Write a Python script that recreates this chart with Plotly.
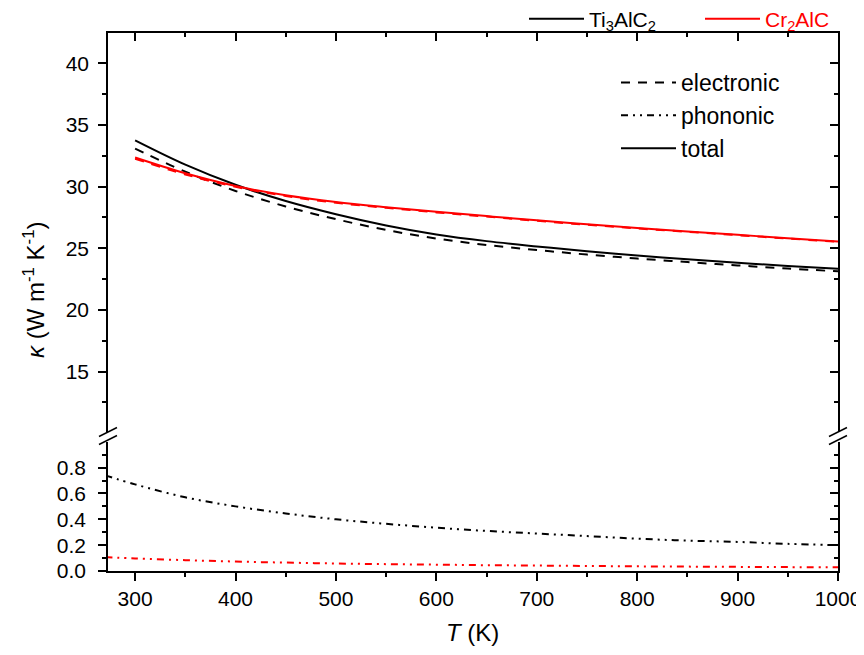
import plotly.graph_objects as go

# ---------------- data ----------------
T = [300, 350, 400, 450, 500, 550, 600, 650, 700, 750, 800, 850, 900, 950, 1000]
ti_total = [33.75, 31.78, 30.15, 28.83, 27.76, 26.85, 26.12, 25.58, 25.15, 24.76,
            24.42, 24.11, 23.83, 23.57, 23.33]
ti_elec = [33.08, 31.21, 29.65, 28.39, 27.36, 26.49, 25.79, 25.27, 24.86, 24.49,
           24.17, 23.88, 23.61, 23.36, 23.13]
cr_total = [32.36, 31.08, 30.05, 29.30, 28.75, 28.33, 27.96, 27.61, 27.27, 26.95,
            26.65, 26.37, 26.09, 25.82, 25.55]
cr_elec = [32.26, 30.99, 29.98, 29.24, 28.69, 28.28, 27.91, 27.57, 27.23, 26.91,
           26.61, 26.34, 26.06, 25.79, 25.52]

T_ph = [270, 300, 350, 400, 450, 500, 550, 600, 650, 700, 750, 800, 850, 900, 950, 1000]
ti_phon = [0.74, 0.67, 0.57, 0.50, 0.445, 0.40, 0.365, 0.335, 0.31, 0.29, 0.27,
           0.25, 0.235, 0.225, 0.21, 0.20]
cr_phon = [0.107, 0.097, 0.084, 0.073, 0.065, 0.058, 0.053, 0.049, 0.045, 0.042,
           0.039, 0.036, 0.034, 0.032, 0.030, 0.029]

x_ticks = [300, 400, 500, 600, 700, 800, 900, 1000]
y_up_ticks = [15, 20, 25, 30, 35, 40]
y_lo_ticks = [0.0, 0.2, 0.4, 0.6, 0.8]

# ---------------- style ----------------
FONT = "Liberation Sans, Arial, sans-serif"
OFF = 8                                  # page body margin
WIN_W, WIN_H = 864, 655
W, H = WIN_W - OFF, WIN_H - 2 * OFF
P_L, P_R, P_T, P_B = 108, 838, 33, 571   # plot box in window pixels
ML, MR, MT = P_L - OFF, WIN_W - P_R, P_T - OFF
MB = (OFF + H) - P_B
PW, PH = P_R - P_L, P_B - P_T
LOW_TOP = P_B - 442
UP_BOT = P_B - 432
DASH_E = "9px,8px"
DASH_P = "7px,5px,2px,5px,2px,5px"


def px2paper(px, py):
    return (px - P_L) / PW, (P_B - py) / PH


fig = go.Figure()

fig.add_trace(go.Scatter(x=T, y=ti_elec, mode="lines", xaxis="x2", yaxis="y2",
                         line=dict(color="black", width=2, dash=DASH_E, shape="spline"),
                         showlegend=False, hoverinfo="skip"))
fig.add_trace(go.Scatter(x=T, y=ti_total, mode="lines", xaxis="x2", yaxis="y2",
                         line=dict(color="black", width=2, shape="spline"),
                         name="Ti<sub>3</sub>AlC<sub>2</sub>", legend="legend"))
fig.add_trace(go.Scatter(x=T, y=cr_elec, mode="lines", xaxis="x2", yaxis="y2",
                         line=dict(color="red", width=2, dash=DASH_E, shape="spline"),
                         showlegend=False, hoverinfo="skip"))
fig.add_trace(go.Scatter(x=T, y=cr_total, mode="lines", xaxis="x2", yaxis="y2",
                         line=dict(color="red", width=2, shape="spline"),
                         name="<span style='color:red'>Cr<sub>2</sub>AlC</span>",
                         legend="legend"))

fig.add_trace(go.Scatter(x=T_ph, y=ti_phon, mode="lines", xaxis="x", yaxis="y",
                         line=dict(color="black", width=2, dash=DASH_P, shape="spline"),
                         showlegend=False))
fig.add_trace(go.Scatter(x=T_ph, y=cr_phon, mode="lines", xaxis="x", yaxis="y",
                         line=dict(color="red", width=2, dash=DASH_P, shape="spline"),
                         showlegend=False))

for nm, ds in [("electronic", DASH_E), ("phononic", DASH_P), ("total", "solid")]:
    fig.add_trace(go.Scatter(x=[None], y=[None], mode="lines", xaxis="x", yaxis="y",
                             line=dict(color="black", width=2, dash=ds),
                             name=nm, legend="legend2"))

for xa, ya in [("x3", "y2"), ("x2", "y3"), ("x", "y4")]:
    fig.add_trace(go.Scatter(x=[None], y=[None], xaxis=xa, yaxis=ya, mode="lines",
                             showlegend=False, hoverinfo="skip"))

ax_common = dict(showline=True, linecolor="black", linewidth=1.5, color="black",
                 showgrid=False, zeroline=False,
                 tickfont=dict(family=FONT, size=21, color="black"))
mirror_common = dict(showline=True, linecolor="black", linewidth=1.5,
                     showticklabels=False, ticks="inside", ticklen=8, tickwidth=1.5,
                     tickcolor="black", showgrid=False, zeroline=False)
xr = [273, 1000]
yr_lo = [0, 0.998]
yr_up = [10.1, 42.46]
d_low = [0, LOW_TOP / PH]
d_up = [UP_BOT / PH, 1]

lg1x, lg1y = px2paper(524, 19)
lg2x, lg2y = px2paper(616, 61)

fig.update_layout(
    width=W, height=H,
    margin=dict(l=ML, r=MR, t=MT, b=MB, autoexpand=False),
    plot_bgcolor="white", paper_bgcolor="white",
    font=dict(family=FONT, size=21, color="black"),
    xaxis=dict(**ax_common, range=xr, anchor="y", tickvals=x_ticks,
               ticks="outside", ticklen=8, tickwidth=1.5,
               minor=dict(dtick=50, tick0=0, ticks="outside", ticklen=4,
                          tickwidth=1.5, tickcolor="black")),
    yaxis=dict(**ax_common, domain=d_low, range=yr_lo, anchor="x",
               tickvals=y_lo_ticks, tickformat=".1f", ticklabelstandoff=8,
               ticks="outside", ticklen=8, tickwidth=1.5,
               minor=dict(dtick=0.1, tick0=0, ticks="outside", ticklen=4,
                          tickwidth=1.5, tickcolor="black")),
    xaxis2=dict(range=xr, anchor="y2", showline=False, showticklabels=False,
                ticks="", showgrid=False, zeroline=False),
    yaxis2=dict(**ax_common, domain=d_up, range=yr_up, anchor="x2",
                tickvals=y_up_ticks, ticklabelstandoff=5,
                ticks="outside", ticklen=8, tickwidth=1.5,
                minor=dict(dtick=2.5, tick0=0, ticks="outside", ticklen=4,
                           tickwidth=1.5, tickcolor="black")),
    xaxis3=dict(**mirror_common, range=xr, overlaying="x2", anchor="y2", side="top",
                tickvals=x_ticks,
                minor=dict(dtick=50, tick0=0, ticks="inside", ticklen=4,
                           tickwidth=1.5, tickcolor="black")),
    yaxis3=dict(**mirror_common, range=yr_up, overlaying="y2", anchor="x2",
                side="right", tickvals=y_up_ticks,
                minor=dict(dtick=2.5, tick0=0, ticks="inside", ticklen=4,
                           tickwidth=1.5, tickcolor="black")),
    yaxis4=dict(**mirror_common, range=yr_lo, overlaying="y", anchor="x",
                side="right", tickvals=y_lo_ticks,
                minor=dict(dtick=0.1, tick0=0, ticks="inside", ticklen=4,
                           tickwidth=1.5, tickcolor="black")),
    legend=dict(orientation="h", x=lg1x, xanchor="left", y=lg1y,
                yanchor="middle", bgcolor="rgba(0,0,0,0)",
                font=dict(family=FONT, size=21, color="black"),
                itemwidth=55, entrywidthmode="pixels", entrywidth=106),
    legend2=dict(x=lg2x, xanchor="left", y=lg2y, yanchor="top",
                 bgcolor="rgba(0,0,0,0)",
                 font=dict(family=FONT, size=23, color="black"),
                 itemwidth=55, tracegroupgap=0),
    showlegend=True,
)

ax_x, ax_y = px2paper(34, 290)
fig.add_annotation(text="<i>κ</i> (W m<sup>-1</sup> K<sup>-1</sup>)", textangle=-90,
                   xref="paper", yref="paper", x=ax_x, y=ax_y,
                   showarrow=False, font=dict(family=FONT, size=24, color="black"),
                   xanchor="center", yanchor="middle")
tx_x, tx_y = px2paper(472, 632)
fig.add_annotation(text="<i>T</i> (K)", xref="paper", yref="paper",
                   x=tx_x, y=tx_y, showarrow=False,
                   font=dict(family=FONT, size=24, color="black"),
                   xanchor="center", yanchor="middle")

for xc in (P_L, P_R):
    for yc in (432, 440):
        x0, y0 = px2paper(xc - 9, yc + 4.5)
        x1, y1 = px2paper(xc + 9, yc - 4.5)
        fig.add_shape(type="line", xref="paper", yref="paper", x0=x0, y0=y0,
                      x1=x1, y1=y1, line=dict(color="black", width=1.5))

fig.write_html("out.html")
